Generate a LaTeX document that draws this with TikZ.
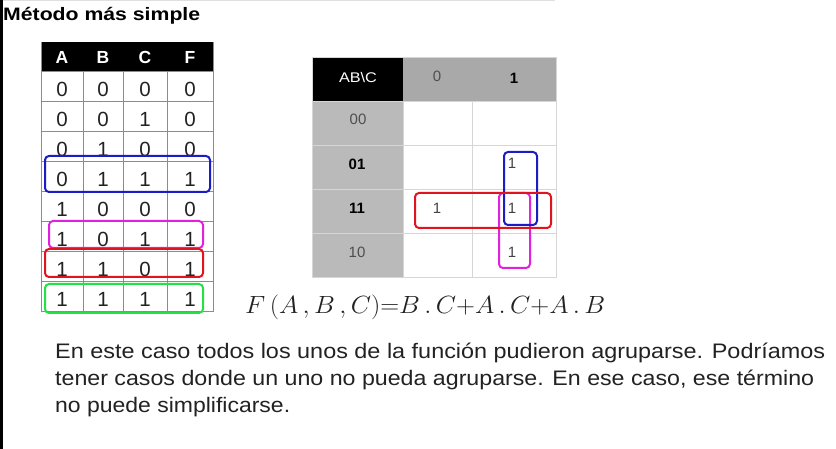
\documentclass[tikz,border=0pt]{standalone}
\usepackage{fontspec}
\setmainfont{Liberation Sans}
\usepackage{graphicx}
\definecolor{txt}{HTML}{222222}
\definecolor{hdrgray}{HTML}{A9A9A9}
\definecolor{sidegray}{HTML}{BABABA}
\definecolor{gridgray}{HTML}{D6D6D6}
\definecolor{tblline}{HTML}{8C8C8C}
\definecolor{grpblue}{HTML}{1C1CC4}
\definecolor{grpred}{HTML}{E0141E}
\definecolor{grpmag}{HTML}{E022E0}
\definecolor{grpgreen}{HTML}{22E045}
\tikzset{
  digit/.style={font=\fontsize{20.5}{20.5}\selectfont, text=txt, inner sep=0pt},
  hdr/.style={font=\fontsize{17.5}{17.5}\selectfont\bfseries, text=white, inner sep=0pt},
  kmlabel/.style={font=\fontsize{15}{15}\selectfont, text=txt!80, inner sep=0pt},
  kmbold/.style={font=\fontsize{15}{15}\selectfont\bfseries, text=black, inner sep=0pt},
  kmone/.style={font=\fontsize{15}{15}\selectfont, text=txt!85, inner sep=0pt},
  group/.style={line width=2pt, rounded corners=4pt},
  para/.style={anchor=base west, inner sep=0pt, text=txt},
}
\begin{document}
\begin{tikzpicture}[x=1pt,y=-1pt]
\useasboundingbox (0,0) rectangle (836,449);
\fill[white] (0,0) rectangle (836,449);
% left edge bar and faint top line
\fill[black] (0,0) rectangle (3,449);
\draw[gray!25, line width=0.8pt] (3,0.5) -- (555,0.5);
% title
\node[para, text=black] (title) at (3,21) {\resizebox{197pt}{\height}{\fontsize{18}{18}\selectfont\bfseries Método más simple}};

% ---------- truth table ----------
\fill[black] (41,42) rectangle (213,71);
\foreach \x/\t [count=\i] in {62/A,103/B,145/C,190/F}
  \node[hdr] (th\i) at (\x,57) {\t};
\foreach \k in {0,...,7}
  \draw[tblline, line width=0.9pt] (41,{71+30.1*\k}) rectangle (213,{71+30.1*(\k+1)});
\foreach \x in {83,123,167}
  \draw[tblline, line width=0.9pt] (\x,71) -- (\x,312);
\draw[tblline, line width=0.9pt] (41,42) -- (41,312) (213,42) -- (213,312);
\foreach \k/\a/\b/\c/\f in {0/0/0/0/0,1/0/0/1/0,2/0/1/0/0,3/0/1/1/1,4/1/0/0/0,5/1/0/1/1,6/1/1/0/1,7/1/1/1/1}{
  \node[digit] (ta\k) at (62,{89+30.1*\k}) {\a};
  \node[digit] (tb\k) at (103,{89+30.1*\k}) {\b};
  \node[digit] (tc\k) at (145,{89+30.1*\k}) {\c};
  \node[digit] (tf\k) at (190,{89+30.1*\k}) {\f};
}
\draw[group, grpblue]  (45,156) rectangle (210,192);
\draw[group, grpmag]   (49,221) rectangle (203,248);
\draw[group, grpred]   (45,249) rectangle (203,277);
\draw[group, grpgreen] (45,284) rectangle (203,313);

% ---------- K-map ----------
\fill[black] (312,57) rectangle (403,101);
\fill[hdrgray] (403,57) rectangle (556,101);
\fill[sidegray] (312,101) rectangle (403,277);
\draw[gridgray, line width=0.9pt] (312,57) rectangle (556,277);
\draw[gridgray, line width=0.9pt] (312,101) -- (556,101);
\foreach \y in {145,189,233}
  \draw[gridgray, line width=0.9pt] (312,\y) -- (556,\y);
\draw[gridgray, line width=0.9pt] (403,101) -- (403,277);
\draw[gridgray, line width=0.9pt] (472,101) -- (472,277);
\node[inner sep=0pt, text=white] (kab) at (358,77) {\resizebox{38pt}{\height}{\fontsize{14}{14}\selectfont AB\textbackslash C}};
\node[kmlabel] (kc0) at (437,76) {0};
\node[kmbold] (kc1) at (514,78) {1};
\node[kmlabel] (kr00) at (358,119) {00};
\node[kmbold] (kr01) at (357,164) {01};
\node[kmbold] (kr11) at (357,208) {11};
\node[kmlabel] (kr10) at (357,252) {10};
\node[kmone] (k011) at (512,163) {1};
\node[kmone] (k110) at (437,208) {1};
\node[kmone] (k111) at (512,208) {1};
\node[kmone] (k101) at (512,252) {1};
\draw[group, grpmag]  (499,193) rectangle (530,268);
\draw[group, grpblue] (504,152) rectangle (537,225);
\draw[group, grpred]  (415,193) rectangle (551,228);

% ---------- formula ----------
\node[inner sep=0pt, anchor=base west, text=txt] (formula) at (245,313)
  {\resizebox{360pt}{\height}{\fontsize{28}{28}\selectfont$F\,(A\,,B\,,C)\mathord{=}B\,.\,C\mathord{+}A\,.\,C\mathord{+}A\,.\,B$}};

% ---------- paragraph ----------
\node[para] (l1) at (55,358) {\resizebox{770pt}{\height}{\fontsize{21}{21}\selectfont En este caso todos los unos de la función pudieron agruparse. Podríamos}};
\node[para] (l2) at (55,385) {\resizebox{759pt}{\height}{\fontsize{21}{21}\selectfont tener casos donde un uno no pueda agruparse. En ese caso, ese término}};
\node[para] (l3) at (55,412) {\resizebox{235pt}{\height}{\fontsize{21}{21}\selectfont no puede simplificarse.}};
\end{tikzpicture}
\end{document}
